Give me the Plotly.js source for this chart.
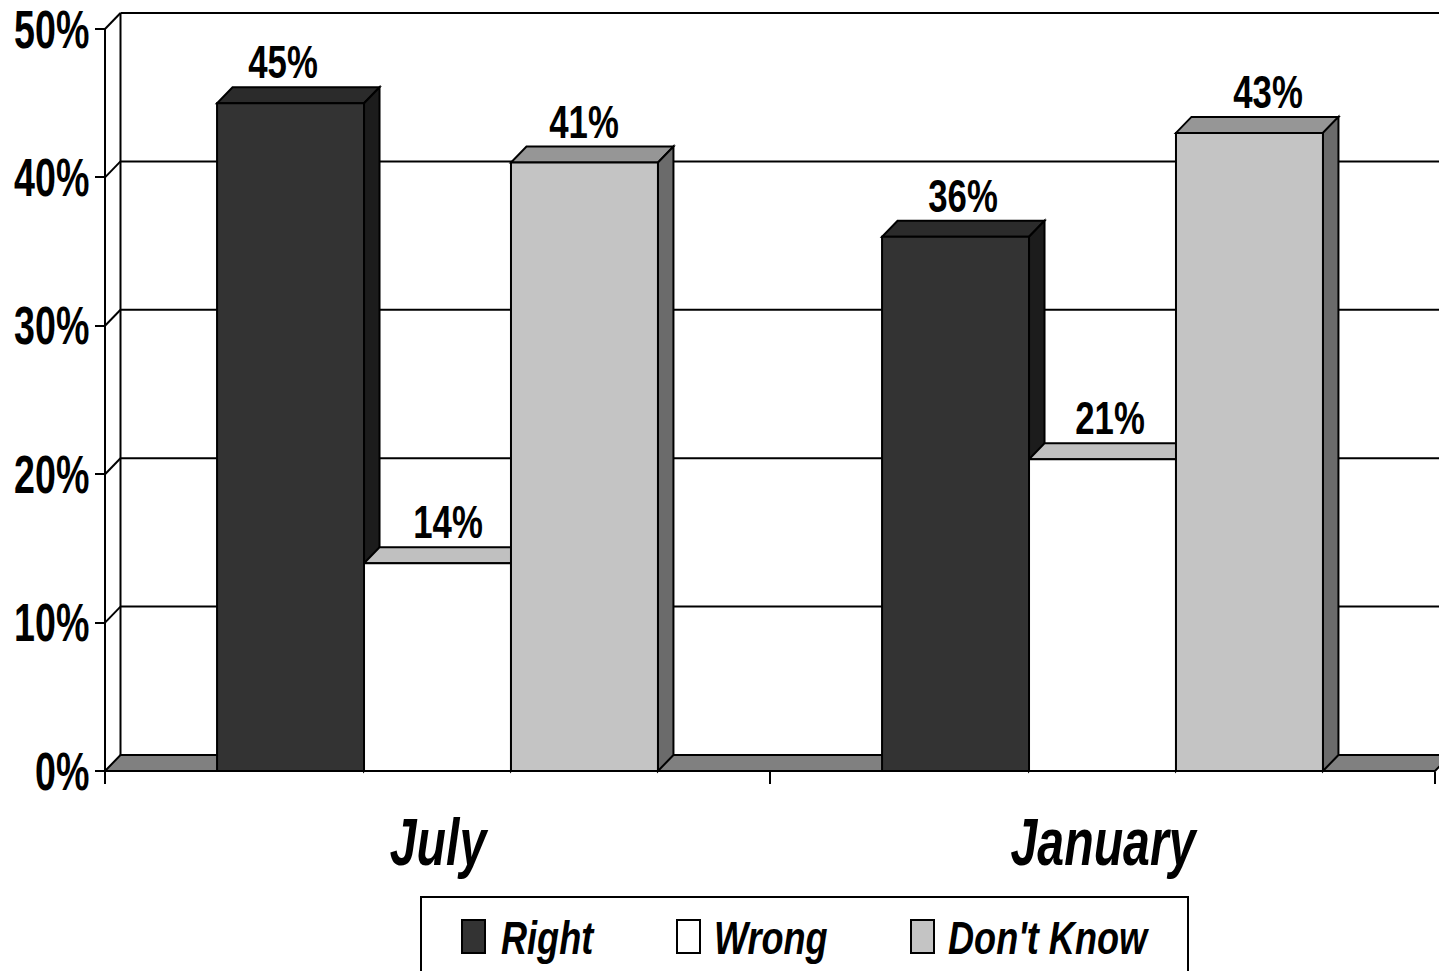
<!DOCTYPE html>
<html>
<head>
<meta charset="utf-8">
<script src="https://cdn.plot.ly/plotly-3.0.1.min.js"></script>
<style>html,body{margin:0;padding:0;background:#fff;}#chart{width:1439px;height:971px;}</style>
</head>
<body>
<div id="chart"></div>
<script>
// ---- data ----
var categories = ['July', 'January'];
var seriesNames = ['Right', 'Wrong', "Don't Know"];
var rightValues = [45, 36];
var wrongValues = [14, 21];
var dontKnowValues = [41, 43];
var yTickValues = [0, 10, 20, 30, 40, 50];
var yTickLabels = ['0%', '10%', '20%', '30%', '40%', '50%'];

// ---- styles ----
var FONT = "'Liberation Sans', Arial, sans-serif";
var frontColors = ['#333333', '#ffffff', '#c4c4c4'];
var topColors = ['#2b2b2b', '#c0c0c0', '#969696'];
var sideColors = ['#1c1c1c', '#a0a0a0', '#6b6b6b'];
// horizontal nudges (px) of the value labels, per series then per category
var labelNudgePx = [[-15, 0], [3, 0], [-8, 11]];
var W = 1439, H = 971;
var M = {l: 90, r: 0, t: 5, b: 190};
var plotW = W - M.l - M.r, plotH = H - M.t - M.b;
var pxPerX = 665, pxPerY = 14.84;
var frontLeftPx = 105, frontZeroPx = 771;
var xRange = [-0.5 - (frontLeftPx - M.l) / pxPerX, -0.5 + (W - M.r - frontLeftPx) / pxPerX];
var yRange = [-(H - M.b - frontZeroPx) / pxPerY, (frontZeroPx - M.t) / pxPerY];
var dxd = 15.5 / pxPerX, dyd = 16 / pxPerY;   // depth offset in data units
var bargap = 0.337;
var allValues = [rightValues, wrongValues, dontKnowValues];
var nS = allValues.length;
var bw = (1 - bargap) / nS;
var yMax = yTickValues[yTickValues.length - 1];
var xLeft = -0.5, xRightEnd = categories.length - 0.5;

function line(x0, y0, x1, y1, w) {
  return {type: 'line', xref: 'x', yref: 'y', x0: x0, y0: y0, x1: x1, y1: y1,
          line: {color: '#000', width: w || 2}, layer: 'below'};
}
function poly(pts, fill) {
  var p = 'M' + pts.map(function (q) { return q[0] + ',' + q[1]; }).join(' L') + ' Z';
  return {type: 'path', xref: 'x', yref: 'y', path: p, fillcolor: fill,
          line: {color: '#000', width: 2}, layer: 'below'};
}

var shapes = [];
// back wall and left wall gridlines
yTickValues.forEach(function (t) {
  if (t === 0) return;
  shapes.push(line(xLeft + dxd, t + dyd, xRightEnd + dxd, t + dyd));
  shapes.push(line(xLeft, t, xLeft + dxd, t + dyd));
});
shapes.push(line(xLeft + dxd, dyd, xLeft + dxd, yMax + dyd));
// floor
shapes.push(poly([[xLeft, 0], [xRightEnd, 0], [xRightEnd + dxd, dyd], [xLeft + dxd, dyd]], '#808080'));
// front axis line
shapes.push(line(xLeft, 0, xLeft, yMax));

// 3D faces of bars + value labels
var annotations = [];
categories.forEach(function (c, ci) {
  for (var si = 0; si < nS; si++) {
    var v = allValues[si][ci];
    var xc = ci + (si - (nS - 1) / 2) * bw;
    var xl = xc - bw / 2, xr = xc + bw / 2;
    shapes.push(poly([[xl, v], [xr, v], [xr + dxd, v + dyd], [xl + dxd, v + dyd]], topColors[si]));
    shapes.push(poly([[xr, 0], [xr + dxd, dyd], [xr + dxd, v + dyd], [xr, v]], sideColors[si]));
    annotations.push({
      x: xc + dxd / 2, y: v + dyd, xref: 'x', yref: 'y', showarrow: false,
      yanchor: 'bottom', yshift: -3, xshift: labelNudgePx[si][ci], text: v + '%',
      font: {family: FONT, size: 46, color: '#000', weight: 'bold'}
    });
  }
});

// custom legend (pixel positions converted to paper)
function xp(px) { return (px - M.l) / plotW; }
function yp(py) { return (H - M.b - py) / plotH; }
shapes.push({type: 'rect', xref: 'paper', yref: 'paper', x0: xp(421), x1: xp(1188), y0: yp(897), y1: yp(990),
             line: {color: '#000', width: 2}, fillcolor: '#fff', layer: 'above'});
var legendSwatchX = [462, 677, 911];
var legendTextX = [499, 712, 946];
for (var i = 0; i < nS; i++) {
  shapes.push({type: 'rect', xref: 'paper', yref: 'paper', x0: xp(legendSwatchX[i]), x1: xp(legendSwatchX[i] + 23),
               y0: yp(920), y1: yp(953), line: {color: '#000', width: 2}, fillcolor: frontColors[i], layer: 'above'});
  annotations.push({x: xp(legendTextX[i]), y: yp(938), xref: 'paper', yref: 'paper', showarrow: false,
                    xanchor: 'left', yanchor: 'middle', text: seriesNames[i],
                    font: {family: FONT, size: 46, color: '#000', weight: 'bold', style: 'italic'}});
}

var traces = allValues.map(function (vals, si) {
  return {type: 'bar', x: categories, y: vals, name: seriesNames[si],
          marker: {color: frontColors[si], line: {color: '#000', width: 2}},
          hoverinfo: 'skip'};
});

var layout = {
  width: W, height: H, margin: M,
  paper_bgcolor: '#fff', plot_bgcolor: '#fff',
  showlegend: false, hovermode: false,
  barmode: 'group', bargap: bargap, bargroupgap: 0,
  xaxis: {type: 'category', range: xRange, anchor: 'free', position: (H - M.b - frontZeroPx) / plotH,
          tickson: 'boundaries', ticks: 'outside', ticklen: 12, tickwidth: 2, tickcolor: '#000',
          showline: false, showgrid: false, zeroline: false, ticklabelstandoff: 26,
          ticklabeloverflow: 'allow',
          tickfont: {family: FONT, size: 67, color: '#000', weight: 'bold', style: 'italic'}},
  yaxis: {range: yRange, anchor: 'free', position: (frontLeftPx - M.l) / plotW,
          tickmode: 'array', tickvals: yTickValues, ticktext: yTickLabels,
          ticks: 'outside', ticklen: 10, tickwidth: 2, tickcolor: '#000',
          showline: false, showgrid: false, zeroline: false, ticklabeloverflow: 'allow',
          tickfont: {family: FONT, size: 53, color: '#000', weight: 'bold'}},
  shapes: shapes,
  annotations: annotations
};

// narrow the (Arial-metric) text horizontally, like the original condensed face
function squeeze(el, s, mode, dx) {
  if (!el) return;
  var bb = el.getBBox();
  var ax = mode === 'end' ? bb.x + bb.width : (mode === 'start' ? bb.x : bb.x + bb.width / 2);
  var t = el.getAttribute('transform') || '';
  el.setAttribute('transform', t + ' translate(' + ((dx || 0) + ax) + ',0) scale(' + s + ',1) translate(' + (-ax) + ',0)');
}

Plotly.newPlot('chart', traces, layout, {displayModeBar: false, staticPlot: true}).then(function (gd) {
  gd.querySelectorAll('.ytick text').forEach(function (el) { squeeze(el, 0.71, 'end', 5); });
  gd.querySelectorAll('.xtick text').forEach(function (el) { squeeze(el, 0.72, 'middle', 0); });
  gd.querySelectorAll('g.annotation').forEach(function (g) {
    var i = +g.getAttribute('data-index');
    var a = annotations[i];
    var el = g.querySelector('text.annotation-text');
    if (a.xanchor === 'left') squeeze(el, 0.785, 'start', 0);
    else squeeze(el, 0.755, 'middle', 0);
  });
});
</script>
</body>
</html>
